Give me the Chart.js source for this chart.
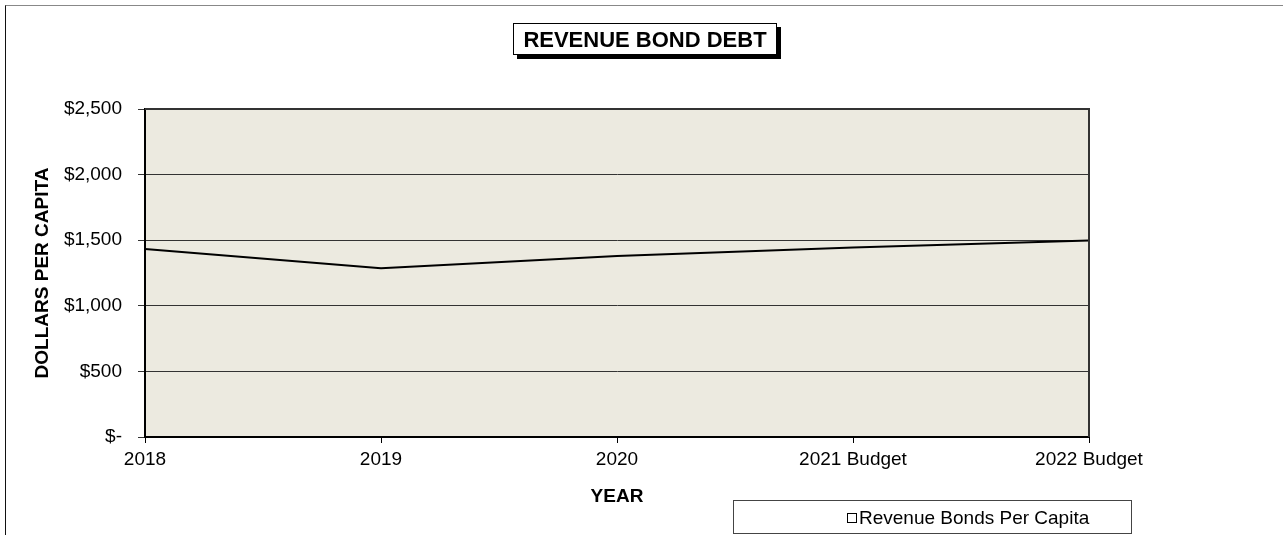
<!DOCTYPE html>
<html>
<head>
<meta charset="utf-8">
<script src="https://cdn.jsdelivr.net/npm/chart.js@4.4.1/dist/chart.umd.min.js"></script>
<style>
    html, body { margin: 0; padding: 0; background: #fff; }
    body { width: 1283px; height: 535px; position: relative; overflow: hidden; font-family: "Liberation Sans", Arial, sans-serif; }
    #frame { position: absolute; left: 5px; top: 5px; width: 1400px; height: 700px; border-top: 1px solid #888; border-left: 1px solid #111; }
    #wrap { position: absolute; left: 0; top: 0; width: 1283px; height: 535px; }
    #chart-title {
        position: absolute; left: 513px; top: 23px; width: 262px; height: 30px;
        border: 1px solid #000; background: #fff; box-shadow: 4px 4px 0 #000;
        font-weight: bold; font-size: 22px; line-height: 32px; text-align: center; color: #000;
    }
    #legend {
        position: absolute; left: 733px; top: 500px; width: 397px; height: 32px;
        border: 1px solid #444; background: #fff; box-sizing: content-box;
        font-size: 19px; line-height: 34px; color: #000; padding-left: 0;
    }
    #legend .inner { position: absolute; left: 113px; top: 0; white-space: nowrap; }
    #legend .swatch { display: inline-block; width: 8px; height: 8px; border: 1px solid #000; background: #fff; margin-right: 2px; vertical-align: 1px; }
</style>
</head>
<body>
<div id="frame"></div>
<div id="wrap"><canvas id="revenue-bond-chart" width="1283" height="535"></canvas></div>
<div id="chart-title">REVENUE BOND DEBT</div>
<div id="legend"><div class="inner"><span class="swatch"></span>Revenue Bonds Per Capita</div></div>
<script>
const years = ['2018', '2019', '2020', '2021 Budget', '2022 Budget'];
const revenueBondsPerCapita = [1433, 1286, 1380, 1445, 1498];
const yTicks = [0, 500, 1000, 1500, 2000, 2500];

const FONT = '"Liberation Sans", Arial, sans-serif';

// plot area background + top/right frame
const plotFrame = {
    id: 'plotFrame',
    beforeDraw(chart) {
        const { ctx, chartArea: a } = chart;
        ctx.save();
        ctx.fillStyle = '#ECEAE0';
        ctx.fillRect(a.left, a.top, a.right - a.left, a.bottom - a.top);
        ctx.restore();
    },
    afterDatasetsDraw(chart) {
        const { ctx, chartArea: a } = chart;
        ctx.save();
        ctx.strokeStyle = '#333';
        ctx.lineWidth = 2;
        ctx.beginPath();
        ctx.moveTo(a.left, a.top);
        ctx.lineTo(a.right, a.top);
        ctx.lineTo(a.right, a.bottom);
        ctx.stroke();
        ctx.restore();
    }
};

const formatDollars = value => value === 0 ? '$-' : '$' + value.toLocaleString('en-US');

const ctx = document.getElementById('revenue-bond-chart').getContext('2d');
new Chart(ctx, {
    type: 'line',
    data: {
        labels: years,
        datasets: [{
            label: 'Revenue Bonds Per Capita',
            data: revenueBondsPerCapita,
            borderColor: '#000',
            borderWidth: 2,
            pointRadius: 0,
            tension: 0,
            fill: false
        }]
    },
    options: {
        responsive: false,
        animation: false,
        layout: { padding: { left: 20, right: 194, top: 109, bottom: 20 } },
        plugins: {
            legend: { display: false },
            title: { display: false },
            tooltip: { enabled: false }
        },
        scales: {
            x: {
                offset: false,
                grid: { drawOnChartArea: false, drawTicks: true, tickLength: 6, color: '#000' },
                border: { display: true, color: '#000', width: 2 },
                ticks: {
                    color: '#000', padding: 5, maxRotation: 0, autoSkip: false,
                    font: { family: FONT, size: 19 }
                },
                title: {
                    display: true, text: 'YEAR', color: '#000',
                    font: { family: FONT, size: 19, weight: 'bold' },
                    padding: { top: 0, bottom: 7 }
                },
                afterFit(scale) { scale.height = 78; }
            },
            y: {
                min: 0,
                max: 2500,
                afterBuildTicks(scale) { scale.ticks = yTicks.map(v => ({ value: v })); },
                grid: { color: '#333', lineWidth: 1, tickLength: 7 },
                border: { display: true, color: '#000', width: 2 },
                ticks: {
                    color: '#000', padding: 16,
                    font: { family: FONT, size: 19 },
                    callback: formatDollars
                },
                title: {
                    display: true, text: 'DOLLARS PER CAPITA', color: '#000',
                    font: { family: FONT, size: 19, weight: 'bold' },
                    padding: { top: 11, bottom: 0 }
                },
                afterFit(scale) { scale.width = 125; }
            }
        }
    },
    plugins: [plotFrame]
});
</script>
</body>
</html>
